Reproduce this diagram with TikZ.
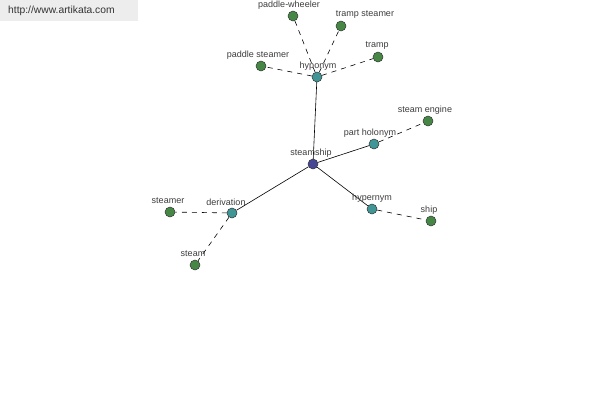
\documentclass[tikz,border=0pt]{standalone}
\usepackage{fontspec}
\setmainfont{Liberation Sans}
\begin{document}
\begin{tikzpicture}[x=1pt,y=-1pt,
  dot/.style={circle,draw=black!80,line width=0.5pt,minimum size=10pt,inner sep=0pt},
  leaf/.style={dot,fill={rgb,255:red,70;green,135;blue,70}},
  mid/.style={dot,fill={rgb,255:red,64;green,150;blue,150}},
  root/.style={dot,fill={rgb,255:red,70;green,70;blue,150}},
  lbl/.style={font=\fontsize{9}{10}\selectfont,text={rgb,255:red,60;green,60;blue,60},inner sep=0pt},
  rel/.style={line width=0.6pt,black},
  sub/.style={line width=0.6pt,black,dash pattern=on 5pt off 5pt}]
\useasboundingbox (0,0) rectangle (600,400);
\fill[black!7] (0,0) rectangle (138,21);
\node[anchor=west,font=\fontsize{10.3}{12}\selectfont,text=black!80,inner sep=0pt] (wm) at (8,11) {http://www.artikata.com};
% nodes
\node[root] (steamship) at (313,164) {};
\node[mid] (hyponym) at (317,77) {};
\node[mid] (partholonym) at (374,144) {};
\node[mid] (hypernym) at (372,209) {};
\node[mid] (derivation) at (232,213) {};
\node[leaf] (paddlewheeler) at (293,16) {};
\node[leaf] (trampsteamer) at (341,26) {};
\node[leaf] (tramp) at (378,57) {};
\node[leaf] (paddlesteamer) at (261,66) {};
\node[leaf] (steamengine) at (428,121) {};
\node[leaf] (ship) at (431,221) {};
\node[leaf] (steamer) at (170,212) {};
\node[leaf] (steam) at (195,265) {};
% edges
\draw[rel] (steamship) -- (hyponym);
\draw[rel] (steamship) -- (partholonym);
\draw[rel] (steamship) -- (hypernym);
\draw[rel] (steamship) -- (derivation);
\draw[sub] (hyponym) -- (paddlewheeler);
\draw[sub] (hyponym) -- (trampsteamer);
\draw[sub] (hyponym) -- (tramp);
\draw[sub] (hyponym) -- (paddlesteamer);
\draw[sub] (partholonym) -- (steamengine);
\draw[sub] (hypernym) -- (ship);
\draw[sub] (derivation) -- (steamer);
\draw[sub] (derivation) -- (steam);
% labels
\node[lbl] (l1) at (311,153) {steamship};
\node[lbl] (l2) at (318,66) {hyponym};
\node[lbl] (l3) at (370,133) {part holonym};
\node[lbl] (l4) at (372,198) {hypernym};
\node[lbl] (l5) at (226,202) {derivation};
\node[lbl] (l6) at (289,5) {paddle-wheeler};
\node[lbl] (l7) at (365,15) {tramp steamer};
\node[lbl] (l8) at (377,46) {tramp};
\node[lbl] (l9) at (258,55) {paddle steamer};
\node[lbl] (l10) at (425,110) {steam engine};
\node[lbl] (l11) at (429,210) {ship};
\node[lbl] (l12) at (168,201) {steamer};
\node[lbl] (l13) at (193,254) {steam};
\end{tikzpicture}
\end{document}
